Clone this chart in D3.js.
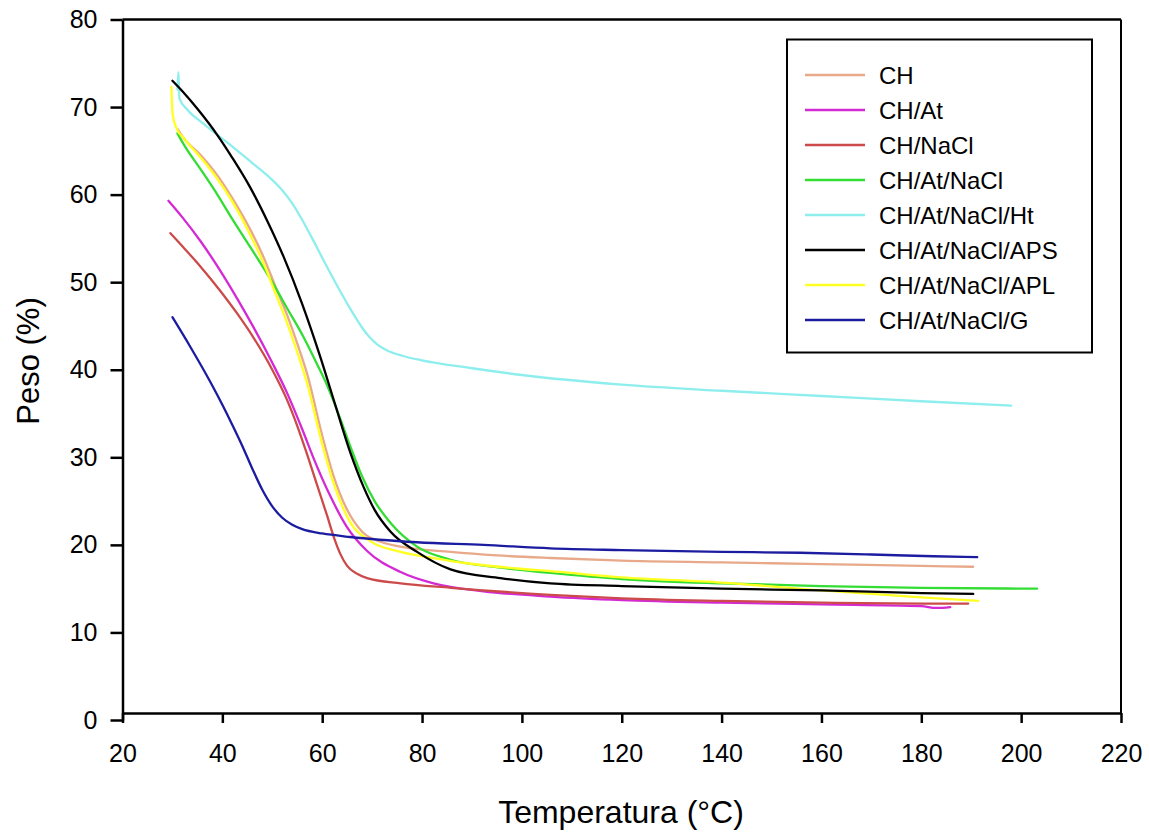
<!DOCTYPE html>
<html><head><meta charset="utf-8">
<script src="https://cdn.jsdelivr.net/npm/d3@7"></script>
<style>body{margin:0;background:#fff}svg{display:block}text{font-family:"Liberation Sans",Arial,sans-serif;fill:#000}</style>
</head><body><svg id="c" width="1149" height="832"></svg>
<script>
const seriesNames = ["CH","CH/At","CH/NaCl","CH/At/NaCl","CH/At/NaCl/Ht","CH/At/NaCl/APS","CH/At/NaCl/APL","CH/At/NaCl/G"];
const seriesColors = ["#e8a98a","#d42ad4","#cc4a4a","#33dd33","#8eeeee","#000000","#ffff22","#1c1ca0"];
const xTicks = [20,40,60,80,100,120,140,160,180,200,220];
const yTicks = [0,10,20,30,40,50,60,70,80];

const CH = [[31,67.5],[32.2,66.5],[36,64.3],[39,62.2],[42,59.6],[45.6,56],[48,53.2],[51,49],[53,46.2],[55,43],[57,39.5],[60,32.5],[62.2,28],[65,24],[68,21.5],[72,20.3],[75.7,19.8],[85.7,19.2],[95,18.8],[105.7,18.5],[120,18.2],[140,18.0],[160,17.8],[180,17.6],[190.4,17.5]];
const CH_At = [[29.2,59.3],[32,57.4],[35.6,54.7],[39.6,51.3],[43,48.1],[46.2,44.9],[50,40.8],[53,37.3],[56,33.2],[58.2,30.0],[61.6,25.6],[65,22.0],[69,19.3],[75.7,16.9],[82.3,15.6],[92.3,14.7],[105.7,14.1],[120,13.7],[140,13.4],[160,13.2],[180,13.0],[183,12.8],[185.8,12.9]];
const CH_NaCl = [[29.6,55.6],[32,54.1],[35.6,51.8],[39.6,49.0],[43,46.4],[46.2,43.7],[50,40.0],[53,36.5],[55,33.6],[57,30.3],[59,26.8],[61,23.3],[62.5,20.6],[63.6,19.0],[65,17.6],[67,16.7],[69,16.2],[75.7,15.6],[85.7,15.1],[105.7,14.3],[120,13.9],[140,13.6],[160,13.4],[180,13.3],[189.4,13.3]];
const CH_At_NaCl = [[31,67],[32.2,65.8],[36,62.6],[39,60.0],[42,57.2],[45.6,54],[50.2,49.8],[53,47],[56.2,43.8],[59,40.6],[61,38.2],[63.5,34.6],[65.6,31.3],[68,27.8],[70.5,25],[73.7,22.5],[79,19.8],[85.7,18.3],[95.7,17.4],[105.7,16.8],[120,16.1],[140,15.6],[160,15.3],[180,15.1],[203.2,15.0]];
const CH_At_NaCl_Ht = [[31.0,72],[31.2,74],[31.4,71],[33,69.7],[36.2,68.1],[42.2,65.4],[46,63.6],[49,62.2],[52,60.5],[54,59.0],[56,57.1],[58,55.0],[60,52.8],[63,49.6],[66,46.6],[68,44.8],[69.5,43.7],[71,42.9],[73,42.2],[76,41.6],[79.7,41.1],[89.7,40.2],[100,39.4],[120,38.3],[140,37.6],[160,37.0],[180,36.4],[198,35.9]];
const CH_At_NaCl_APS = [[30,73],[32,71.8],[35,69.8],[39,66.8],[42,64.2],[45.6,60.8],[49,57.0],[52.2,53.0],[56,47.5],[59.6,41.5],[62.5,36.2],[65.6,30.6],[68.3,26.6],[70.5,24.0],[73.7,21.5],[79,19.2],[85.7,17.2],[95.7,16.2],[105.7,15.6],[120,15.3],[140,15.0],[160,14.8],[180,14.5],[190.4,14.4]];
const CH_At_NaCl_APL = [[29.8,72.3],[29.9,70.5],[30.1,69],[30.8,67.6],[32.2,66.5],[36,64],[39,61.8],[42,59.2],[45.6,55.4],[48,52.5],[51,48.2],[53,45.3],[55,42],[57,38.4],[60,31.5],[62.2,27.2],[65.6,22.6],[69.7,20.4],[75.7,19.2],[82.3,18.5],[89,17.9],[99,17.3],[105.7,17.0],[120,16.3],[140,15.7],[160,14.8],[180,14.0],[191.4,13.6]];
const CH_At_NaCl_G = [[30,46],[33.6,42.6],[37.6,38.6],[40,36.0],[42,33.7],[44,31.3],[46,28.7],[48,26.3],[50,24.4],[52,23.1],[54,22.3],[56,21.8],[60,21.3],[65.6,20.9],[79,20.3],[92.3,20.0],[105.7,19.6],[120,19.4],[140,19.2],[155.7,19.1],[170,18.9],[182.4,18.7],[191.2,18.6]];
const allSeries = [CH,CH_At,CH_NaCl,CH_At_NaCl,CH_At_NaCl_Ht,CH_At_NaCl_APS,CH_At_NaCl_APL,CH_At_NaCl_G];

const svg = d3.select("#c");
const x = d3.scaleLinear().domain([20,220]).range([122.5,1121]);
const y = d3.scaleLinear().domain([0,80]).range([720,19.5]);
const axisY = 713;

// frame
svg.append("line").attr("x1",x(20)).attr("x2",x(220)).attr("y1",y(80)).attr("y2",y(80)).attr("stroke","#000").attr("stroke-width",2.5);
svg.append("line").attr("x1",x(220)).attr("x2",x(220)).attr("y1",y(80)).attr("y2",axisY).attr("stroke","#000").attr("stroke-width",2);

// x axis
const gx = svg.append("g").attr("transform",`translate(0,${axisY})`)
  .call(d3.axisBottom(x).tickValues(xTicks).tickSize(10).tickPadding(21).tickSizeOuter(0));
gx.select(".domain").attr("stroke-width",2.5);
gx.selectAll(".tick line").attr("stroke-width",2.5);
gx.selectAll("text").style("font-size","25px").attr("font-family","Liberation Sans, Arial, sans-serif");

// y axis
const gy = svg.append("g").attr("transform",`translate(${x(20)},0)`)
  .call(d3.axisLeft(y).tickValues(yTicks).tickSize(12).tickPadding(13).tickSizeOuter(0));
gy.select(".domain").attr("stroke-width",2.5);
gy.selectAll(".tick line").attr("stroke-width",2.5);
gy.selectAll("text").style("font-size","25px").attr("font-family","Liberation Sans, Arial, sans-serif");

// lines
const line = d3.line().x(d=>x(d[0])).y(d=>y(d[1])).curve(d3.curveMonotoneX);
const drawOrder = [4,0,1,2,3,6,5,7];
drawOrder.forEach(i=>{
  svg.append("path").datum(allSeries[i]).attr("d",line)
    .attr("fill","none").attr("stroke",seriesColors[i]).attr("stroke-width",2.3)
    .attr("stroke-linejoin","round").attr("stroke-linecap","round");
});

// axis titles
svg.append("text").attr("x",621).attr("y",823).attr("text-anchor","middle").style("font-size","32px").text("Temperatura (°C)");
svg.append("text").attr("transform","translate(39,361) rotate(-90)").attr("text-anchor","middle").style("font-size","31px").text("Peso (%)");

// legend
const lg = svg.append("g");
lg.append("rect").attr("x",787).attr("y",39.5).attr("width",305).attr("height",313).attr("fill","#fff").attr("stroke","#000").attr("stroke-width",2);
seriesNames.forEach((n,i)=>{
  const cy = 75 + i*35;
  lg.append("line").attr("x1",805).attr("x2",865).attr("y1",cy).attr("y2",cy).attr("stroke",seriesColors[i]).attr("stroke-width",2.3);
  lg.append("text").attr("x",879).attr("y",cy).attr("dy","0.36em").style("font-size","24px").text(n);
});
</script></body></html>
